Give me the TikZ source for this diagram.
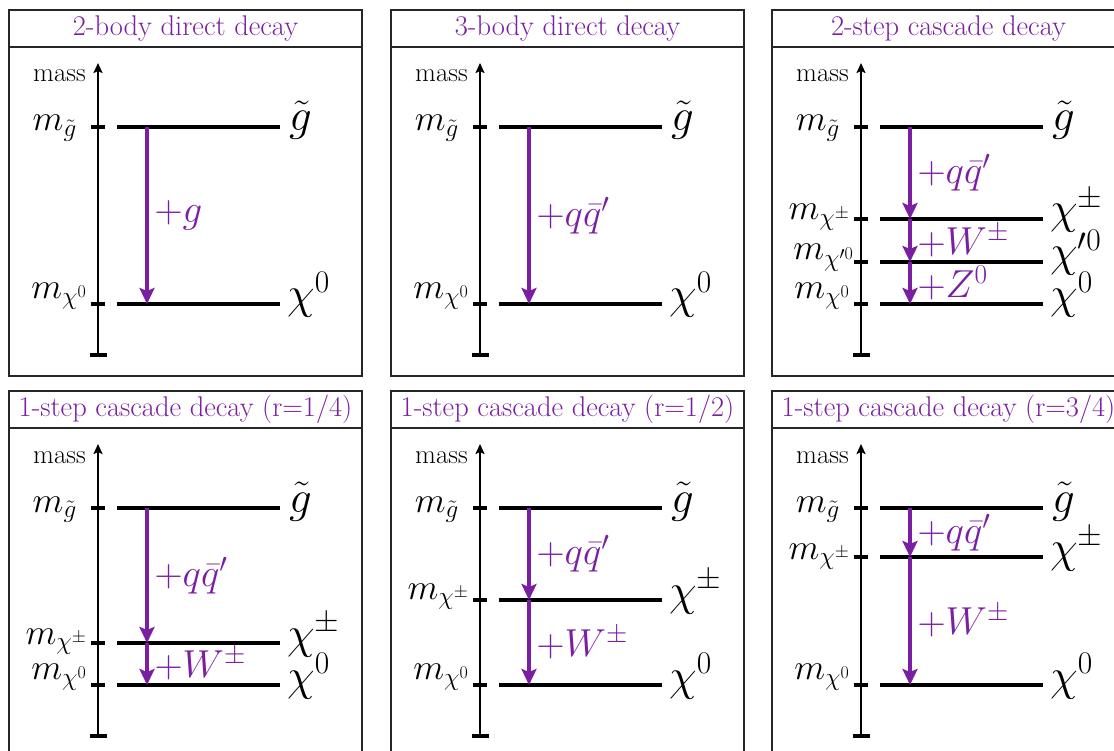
\RequirePackage{fix-cm}
\documentclass[tikz,border=0pt]{standalone}
\usepackage{amsmath}
\usetikzlibrary{arrows.meta}
\definecolor{decaypurple}{RGB}{123,31,162}

\begin{document}
\begin{tikzpicture}[x=1pt, y=-1pt,
  frame/.style={draw=black!85, line width=1.6pt},
  title/.style={font=\fontsize{28.5}{32}\selectfont, text=decaypurple, inner sep=0pt},
  massaxis/.style={line width=2.6pt, -{Stealth[length=10pt, width=9pt, inset=2pt]}},
  level/.style={line width=3.2pt},
  decay/.style={line width=3.2pt, draw=decaypurple, -{Stealth[length=16pt, width=15pt, inset=3pt]}},
  declabel/.style={right, inner sep=6pt, text=decaypurple, font=\fontsize{39}{42}\selectfont},
  masslabel/.style={anchor=base east, inner sep=0pt, font=\fontsize{36}{40}\selectfont},
  partlabel/.style={anchor=base west, inner sep=0pt, font=\fontsize{45}{50}\selectfont},
  axislabel/.style={anchor=base east, inner sep=0pt, font=\fontsize{27}{30}\selectfont},
]

\useasboundingbox (0,0) rectangle (1114,751);
\clip (0,0) rectangle (1114,751);

% 2-body direct decay
\begin{scope}[shift={(9,10)}]
  \draw[frame] (0,0) rectangle (353,366);
  \draw[frame] (0,37) -- (353,37);
  \node[title] (title1) at (176.5,18.5) {2-body direct decay};
  \draw[massaxis] (89,345) -- (89,53);
  \draw[level] (81,345) -- (98,345);
  \node[axislabel] (mass1) at (77,72) {mass};

  \draw[level] (82,117) -- (96,117) (108,117) -- (271,117);
  \node[masslabel] (a1gm) at (68,121) {$m_{\tilde g}$};
  \node[partlabel] (a1g) at (280,121) {$\tilde g$};
  \draw[level] (82,294) -- (96,294) (108,294) -- (271,294);
  \node[masslabel] (a1nm) at (78,288.5) {$m_{\chi^0}$};
  \node[partlabel] (a1n) at (278,299) {$\chi^0$};

  \coordinate (a1top) at (138,117);
  \coordinate (a1bot) at (138,294);
  \draw[decay] (a1top) -- node[declabel] (a1d) {$+g$} (a1bot);
\end{scope}

% 3-body direct decay
\begin{scope}[shift={(391,10)}]
  \draw[frame] (0,0) rectangle (353,366);
  \draw[frame] (0,37) -- (353,37);
  \node[title] (title2) at (176.5,18.5) {3-body direct decay};
  \draw[massaxis] (89,345) -- (89,53);
  \draw[level] (81,345) -- (98,345);
  \node[axislabel] (mass2) at (77,72) {mass};

  \draw[level] (82,117) -- (96,117) (108,117) -- (271,117);
  \node[masslabel] (a2gm) at (68,121) {$m_{\tilde g}$};
  \node[partlabel] (a2g) at (280,121) {$\tilde g$};
  \draw[level] (82,294) -- (96,294) (108,294) -- (271,294);
  \node[masslabel] (a2nm) at (78,288.5) {$m_{\chi^0}$};
  \node[partlabel] (a2n) at (278,299) {$\chi^0$};

  \coordinate (a2top) at (138,117);
  \coordinate (a2bot) at (138,294);
  \draw[decay] (a2top) -- node[declabel] (a2d) {$+q\bar{q}'$} (a2bot);
\end{scope}

% 2-step cascade decay
\begin{scope}[shift={(772,10)}]
  \draw[frame] (0,0) rectangle (353,366);
  \draw[frame] (0,37) -- (353,37);
  \node[title] (title3) at (176.5,18.5) {2-step cascade decay};
  \draw[massaxis] (89,345) -- (89,53);
  \draw[level] (81,345) -- (98,345);
  \node[axislabel] (mass3) at (77,72) {mass};

  \draw[level] (82,117) -- (96,117) (108,117) -- (271,117);
  \node[masslabel] (a3gm) at (68,121) {$m_{\tilde g}$};
  \node[partlabel] (a3g) at (280,121) {$\tilde g$};
  \draw[level] (82,209) -- (96,209) (108,209) -- (271,209);
  \node[masslabel] (a3cm) at (78,210) {$m_{\chi^\pm}$};
  \node[partlabel] (a3c) at (278,214) {$\chi^\pm$};
  \draw[level] (82,252) -- (96,252) (108,252) -- (271,252);
  \node[masslabel] (a3pm) at (82,250) {$m_{\chi'^0}$};
  \node[partlabel] (a3p) at (278,257) {$\chi'^0$};
  \draw[level] (82,294) -- (96,294) (108,294) -- (271,294);
  \node[masslabel] (a3nm) at (78,288.5) {$m_{\chi^0}$};
  \node[partlabel] (a3n) at (278,299) {$\chi^0$};

  \coordinate (a3top) at (138,117);
  \coordinate (a3c1) at (138,209);
  \coordinate (a3c2) at (138,252);
  \coordinate (a3bot) at (138,294);
  \draw[decay] (a3top) -- node[declabel] (a3d1) {$+q\bar{q}'$} (a3c1);
  \draw[decay] (a3c1) -- node[declabel] (a3d2) {$+W^\pm$} (a3c2);
  \draw[decay] (a3c2) -- node[declabel] (a3d3) {$+Z^0$} (a3bot);
\end{scope}

% 1-step cascade decay, r=1/4
\begin{scope}[shift={(9,391)}]
  \draw[frame] (0,0) rectangle (353,366);
  \draw[frame] (0,37) -- (353,37);
  \node[title] (title4) at (176.5,18.5) {1-step cascade decay (r=1/4)};
  \draw[massaxis] (89,345) -- (89,53);
  \draw[level] (81,345) -- (98,345);
  \node[axislabel] (mass4) at (77,72) {mass};

  \draw[level] (82,117) -- (96,117) (108,117) -- (271,117);
  \node[masslabel] (b1gm) at (68,121) {$m_{\tilde g}$};
  \node[partlabel] (b1g) at (280,121) {$\tilde g$};
  \draw[level] (82,252) -- (96,252) (108,252) -- (271,252);
  \node[masslabel] (b1cm) at (78,253) {$m_{\chi^\pm}$};
  \node[partlabel] (b1c) at (278,257) {$\chi^\pm$};
  \draw[level] (82,294) -- (96,294) (108,294) -- (271,294);
  \node[masslabel] (b1nm) at (78,288.5) {$m_{\chi^0}$};
  \node[partlabel] (b1n) at (278,299) {$\chi^0$};

  \coordinate (b1top) at (138,117);
  \coordinate (b1mid) at (138,252);
  \coordinate (b1bot) at (138,294);
  \draw[decay] (b1top) -- node[declabel] (b1d1) {$+q\bar{q}'$} (b1mid);
  \draw[decay] (b1mid) -- node[declabel] (b1d2) {$+W^\pm$} (b1bot);
\end{scope}

% 1-step cascade decay, r=1/2
\begin{scope}[shift={(391,391)}]
  \draw[frame] (0,0) rectangle (353,366);
  \draw[frame] (0,37) -- (353,37);
  \node[title] (title5) at (176.5,18.5) {1-step cascade decay (r=1/2)};
  \draw[massaxis] (89,345) -- (89,53);
  \draw[level] (81,345) -- (98,345);
  \node[axislabel] (mass5) at (77,72) {mass};

  \draw[level] (82,117) -- (96,117) (108,117) -- (271,117);
  \node[masslabel] (b2gm) at (68,121) {$m_{\tilde g}$};
  \node[partlabel] (b2g) at (280,121) {$\tilde g$};
  \draw[level] (82,209) -- (96,209) (108,209) -- (271,209);
  \node[masslabel] (b2cm) at (78,208) {$m_{\chi^\pm}$};
  \node[partlabel] (b2c) at (278,214) {$\chi^\pm$};
  \draw[level] (82,294) -- (96,294) (108,294) -- (271,294);
  \node[masslabel] (b2nm) at (78,288.5) {$m_{\chi^0}$};
  \node[partlabel] (b2n) at (278,299) {$\chi^0$};

  \coordinate (b2top) at (138,117);
  \coordinate (b2mid) at (138,209);
  \coordinate (b2bot) at (138,294);
  \draw[decay] (b2top) -- node[declabel] (b2d1) {$+q\bar{q}'$} (b2mid);
  \draw[decay] (b2mid) -- node[declabel] (b2d2) {$+W^\pm$} (b2bot);
\end{scope}

% 1-step cascade decay, r=3/4
\begin{scope}[shift={(772,391)}]
  \draw[frame] (0,0) rectangle (353,366);
  \draw[frame] (0,37) -- (353,37);
  \node[title] (title6) at (176.5,18.5) {1-step cascade decay (r=3/4)};
  \draw[massaxis] (89,345) -- (89,53);
  \draw[level] (81,345) -- (98,345);
  \node[axislabel] (mass6) at (77,72) {mass};

  \draw[level] (82,117) -- (96,117) (108,117) -- (271,117);
  \node[masslabel] (b3gm) at (68,121) {$m_{\tilde g}$};
  \node[partlabel] (b3g) at (280,121) {$\tilde g$};
  \draw[level] (82,166) -- (96,166) (108,166) -- (271,166);
  \node[masslabel] (b3cm) at (78,168) {$m_{\chi^\pm}$};
  \node[partlabel] (b3c) at (278,171) {$\chi^\pm$};
  \draw[level] (82,294) -- (96,294) (108,294) -- (271,294);
  \node[masslabel] (b3nm) at (78,288.5) {$m_{\chi^0}$};
  \node[partlabel] (b3n) at (278,299) {$\chi^0$};

  \coordinate (b3top) at (138,117);
  \coordinate (b3mid) at (138,166);
  \coordinate (b3bot) at (138,294);
  \draw[decay] (b3top) -- node[declabel] (b3d1) {$+q\bar{q}'$} (b3mid);
  \draw[decay] (b3mid) -- node[declabel] (b3d2) {$+W^\pm$} (b3bot);
\end{scope}

\end{tikzpicture}
\end{document}
